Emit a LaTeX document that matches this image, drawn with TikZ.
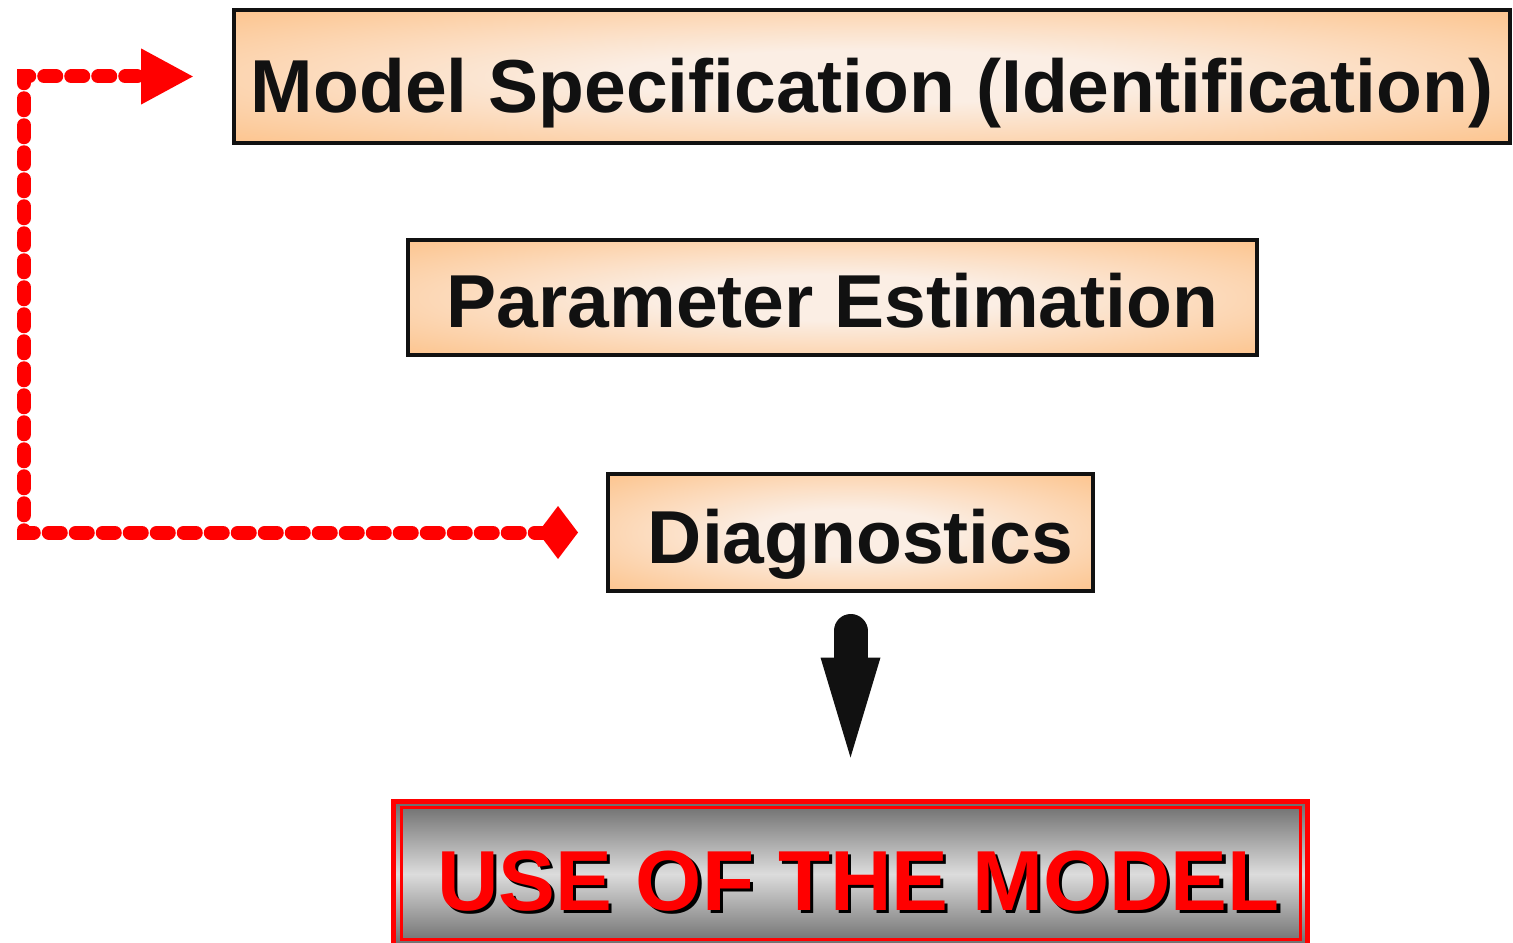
\documentclass[tikz,border=0pt]{standalone}
\usepackage{fontspec}
\setmainfont{Liberation Sans}
\usepackage{xcolor}
\usetikzlibrary{arrows.meta,calc}
\definecolor{boxorange}{HTML}{FDBD7F}
\definecolor{boxlight}{HTML}{FBEEE4}
\definecolor{inkblack}{HTML}{111111}
\definecolor{steeldark}{HTML}{6B6B6B}
\definecolor{steellight}{HTML}{DCDCDC}
\pgfdeclareradialshading{glow}{\pgfpoint{0bp}{0bp}}{color(0bp)=(boxlight); color(10bp)=(boxlight); color(40bp)=(boxorange); color(100bp)=(boxorange)}
\newcommand{\shadowed}[1]{\makebox[0pt][l]{\hspace{1.8pt}\raisebox{-1.8pt}{\textcolor{black}{#1}}}\textcolor{red}{#1}}

\begin{document}
\begin{tikzpicture}[x=1cm,y=1cm,
    stage/.style={draw=inkblack,line width=0.08cm,shading=glow,inner sep=0pt,
      text height=1.22cm,text depth=0pt,
      text=inkblack,font=\fontsize{42.7}{50}\selectfont\bfseries},
    usebox/.style={draw=red,line width=0.1cm,top color=steeldark,bottom color=steeldark,
      middle color=steellight,inner sep=0pt,text height=1.44cm,text depth=0pt,
      font=\fontsize{48.5}{56}\selectfont\bfseries},
    feedback/.style={red,line width=0.28cm,line cap=round,dash pattern=on 0.24cm off 0.30cm,
      {Diamond[length=0.8cm,width=1.06cm]}-{Triangle[length=1.06cm,width=1.04cm]}},
    bigarrow/.style={inkblack,line width=0.68cm,line cap=round,
      -{Triangle[length=2cm,width=1.2cm,line width=0pt]}}]
  \useasboundingbox (0,0) rectangle (30.26,-18.86);
  % the three stages
  \node[stage,text height=1.46cm,minimum width=25.52cm,minimum height=2.66cm] (spec) at (17.44,-1.53) {Model Specification (Identification)};
  \node[stage,minimum width=16.98cm,minimum height=2.3cm] (param) at (16.65,-5.95) {Parameter Estimation};
  \node[stage,minimum width=9.7cm,minimum height=2.34cm] (diag) at (17.01,-10.65) {\hspace*{0.4cm}Diagnostics};
  % final use
  \node[usebox,minimum width=18.28cm,minimum height=2.9cm] (use) at (17.01,-17.48) {\hspace*{0.32cm}\shadowed{USE OF THE MODEL}};
  \draw[red,line width=0.06cm] ($(use.north west)+(0.2,-0.16)$) rectangle ($(use.south east)+(-0.2,0.2)$);
  % loop back from diagnostics
  \coordinate (bend) at (0.48,0);
  \draw[feedback,shorten <=0.56cm,shorten >=0.76cm] (diag.west) -- (diag.west -| bend) |- (spec.west);
  \draw[bigarrow,shorten <=0.76cm,shorten >=0.83cm] (diag.south) -- (use.north);
\end{tikzpicture}
\end{document}
